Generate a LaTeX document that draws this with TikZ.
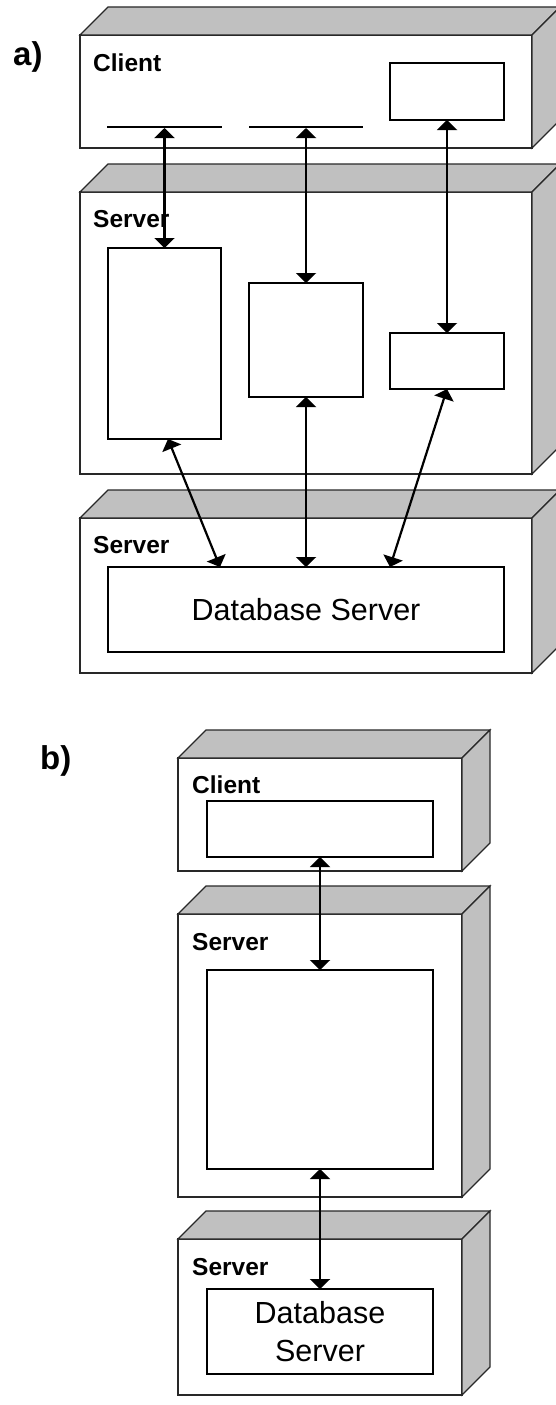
\documentclass[tikz,border=0pt]{standalone}
\usepackage{fontspec}
\setmainfont{Liberation Sans}
\usetikzlibrary{arrows.meta,calc}
\definecolor{facegray}{RGB}{192,192,192}
\definecolor{edgegray}{RGB}{40,40,40}
\newcommand{\deploybox}[4]{%
  \filldraw[face,fill=white] (#1,#2) rectangle (#3,#4);
  \filldraw[face,fill=facegray] (#1,#2) -- ++(28,-28) -- (#3+28,#2-28) -- (#3,#2) -- cycle;
  \filldraw[face,fill=facegray] (#3,#2) -- (#3+28,#2-28) -- (#3+28,#4-28) -- (#3,#4) -- cycle;
}
\begin{document}
\begin{tikzpicture}[x=1pt,y=-1pt,
  face/.style={draw=edgegray,line width=1.2pt,line join=miter},
  ibox/.style={draw=black,line width=2.3pt,fill=white,inner sep=0pt,outer sep=0pt},
  conn/.style={line width=2.2pt,{Triangle[width=20pt,length=10pt]}-{Triangle[width=20pt,length=10pt]}},
  lbl/.style={anchor=base west,inner sep=0pt,font=\fontsize{24.5}{29}\selectfont\bfseries},
  tag/.style={anchor=base west,inner sep=0pt,font=\fontsize{33}{40}\selectfont\bfseries},
  dbtext/.style={font=\fontsize{30.5}{37.5}\selectfont,align=center},
]
\useasboundingbox (0,0) rectangle (556,1405);

% ---------- a) ----------
\node[tag] (ta) at (13,66) {a)};
\deploybox{80}{35}{532}{148}
\deploybox{80}{192}{532}{474}
\deploybox{80}{518}{532}{673}
\node[lbl] (aclient) at (93,71) {Client};
\node[lbl] (aserver) at (93,227) {Server};
\node[lbl] (adbserver) at (93,553) {Server};

\coordinate (l1) at (164.5,128);
\coordinate (l2) at (306,128);
\draw[line width=2.3pt] (107,127) -- (222,127);
\draw[line width=2.3pt] (249,127) -- (363,127);
\node[ibox,minimum width=114pt,minimum height=57pt] (c3) at (447,91.5) {};

\node[ibox,minimum width=113pt,minimum height=191pt] (s1) at (164.5,343.5) {};
\node[ibox,minimum width=114pt,minimum height=114pt] (s2) at (306,340) {};
\node[ibox,minimum width=114pt,minimum height=56pt] (s3) at (447,361) {};
\node[ibox,minimum width=396pt,minimum height=85pt,dbtext] (dba) at (306,609.5) {Database Server};

\draw[conn] (l1) -- (s1.north);
\draw[conn] (l2) -- (s2.north);
\draw[conn] (c3.south) -- (s3.north);
\draw[conn] ([xshift=3.5pt]s1.south) -- ([xshift=-86pt]dba.north);
\draw[conn] (s2.south) -- (dba.north);
\draw[conn] (s3.south) -- ([xshift=84pt]dba.north);

% ---------- b) ----------
\node[tag] (tb) at (40,769) {b)};
\deploybox{178}{758}{462}{871}
\deploybox{178}{914}{462}{1197}
\deploybox{178}{1239}{462}{1395}
\node[lbl] (bclient) at (192,793) {Client};
\node[lbl] (bserver) at (192,950) {Server};
\node[lbl] (bdbserver) at (192,1275) {Server};

\node[ibox,minimum width=226pt,minimum height=56pt] (cb) at (320,829) {};
\node[ibox,minimum width=226pt,minimum height=199pt] (sb) at (320,1069.5) {};
\node[ibox,minimum width=226pt,minimum height=85pt,dbtext] (dbb) at (320,1331.5) {Database\\Server};

\draw[conn] (cb.south) -- (sb.north);
\draw[conn] (sb.south) -- (dbb.north);
\end{tikzpicture}
\end{document}
